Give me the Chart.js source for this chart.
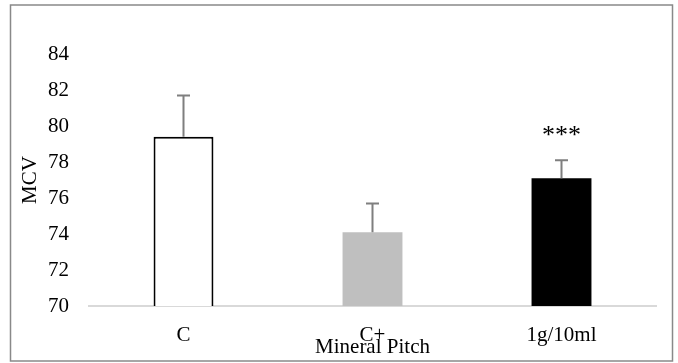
<!DOCTYPE html>
<html>
<head>
<meta charset="utf-8">
<script src="https://cdn.jsdelivr.net/npm/chart.js@4"></script>
<style>
    html, body { margin: 0; padding: 0; background: #fff; }
    #wrap { width: 678px; height: 363px; position: relative; }
</style>
</head>
<body>
<div id="wrap"><canvas id="mcv-graph"></canvas></div>
<script>
const categories = ['C', 'C+', '1g/10ml'];
const means = [79.4, 74.1, 77.1];
const errors = [2.3, 1.6, 1.0];
const marks = ['', '', '***'];
const yTicks = [70, 72, 74, 76, 78, 80, 82, 84];

const font = 'Liberation Serif';

// gray frame round the whole chart
const frame = {
    id: 'frame',
    afterDraw(chart) {
        const ctx = chart.ctx;
        ctx.save();
        ctx.strokeStyle = '#898989';
        ctx.lineWidth = 1.5;
        ctx.strokeRect(10.5, 5, 662, 356);
        ctx.restore();
    }
};

// error bars and significance stars
const errorBars = {
    id: 'errorBars',
    afterDatasetsDraw(chart) {
        const ctx = chart.ctx;
        const y = chart.scales.y;
        const meta = chart.getDatasetMeta(0);
        ctx.save();
        meta.data.forEach((bar, i) => {
            const top = y.getPixelForValue(means[i] + errors[i]);
            ctx.strokeStyle = '#7f7f7f';
            ctx.lineWidth = 2;
            ctx.beginPath();
            ctx.moveTo(bar.x, bar.y);
            ctx.lineTo(bar.x, top);
            ctx.moveTo(bar.x - 6.5, top);
            ctx.lineTo(bar.x + 6.5, top);
            ctx.stroke();
            if (marks[i]) {
                ctx.fillStyle = '#000';
                ctx.font = '26px "' + font + '"';
                ctx.textAlign = 'center';
                ctx.textBaseline = 'alphabetic';
                ctx.fillText(marks[i], bar.x, top - 17);
            }
        });
        ctx.restore();
    }
};

new Chart(document.getElementById('mcv-graph'), {
    type: 'bar',
    data: {
        labels: categories,
        datasets: [{
            data: means,
            backgroundColor: ['#ffffff', '#bfbfbf', '#000000'],
            borderColor: ['#000000', '#bfbfbf', '#000000'],
            borderWidth: [{ top: 2, left: 2, right: 2, bottom: 0 }, 0, 0],
            borderSkipped: 'bottom',
            categoryPercentage: 1,
            barPercentage: 0.317
        }]
    },
    options: {
        responsive: true,
        maintainAspectRatio: false,
        animation: false,
        layout: { padding: { left: 10, right: 22, top: 54, bottom: 0 } },
        plugins: { legend: { display: false }, tooltip: { enabled: false } },
        scales: {
            x: {
                grid: { display: false, drawTicks: false },
                border: { display: true, color: '#d9d9d9', width: 2 },
                ticks: { color: '#000', font: { family: font, size: 21 }, padding: 17 },
                title: {
                    display: true, text: 'Mineral Pitch', color: '#000',
                    font: { family: font, size: 21 }, padding: { top: 0, bottom: 3 }
                },
                afterFit(scale) { scale.height = 57; }
            },
            y: {
                min: 70,
                max: 84,
                afterBuildTicks(scale) { scale.ticks = yTicks.map(v => ({ value: v })); },
                grid: { display: false, drawTicks: false },
                border: { display: false },
                ticks: { color: '#000', font: { family: font, size: 21 }, padding: 20 },
                title: {
                    display: true, text: 'MCV', color: '#000',
                    font: { family: font, size: 21 }, padding: { top: 8, bottom: 0 }
                },
                afterFit(scale) { scale.width = 79; }
            }
        }
    },
    plugins: [frame, errorBars]
});
</script>
</body>
</html>
